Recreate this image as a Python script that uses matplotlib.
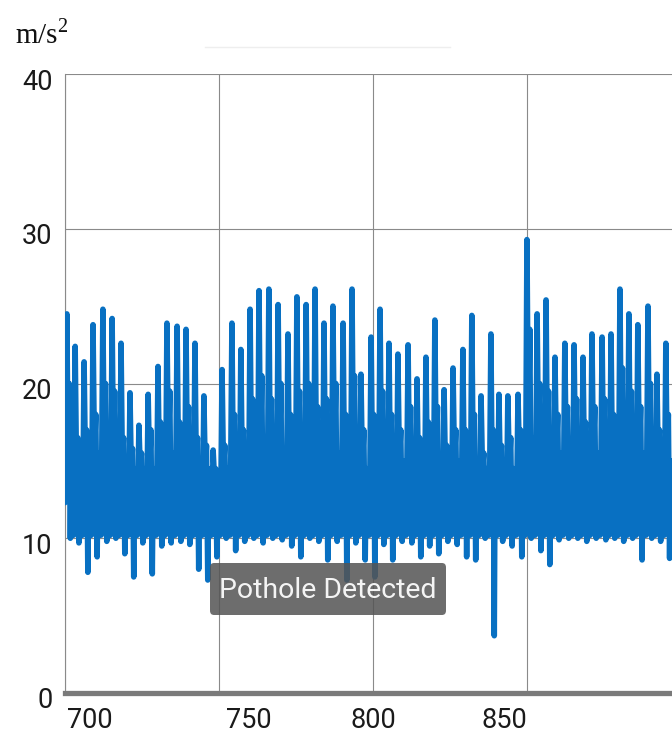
"""
Accelerometer trace (m/s^2) with the "Pothole Detected" toast, redrawn
from a phone screenshot.
"""

import numpy as np
import matplotlib
matplotlib.use("Agg")
import matplotlib.pyplot as plt
import matplotlib.transforms as mtransforms
from matplotlib.patches import FancyBboxPatch
from matplotlib.lines import Line2D


# =============================================================================
# DATA, one entry per oscillation cycle
# =============================================================================

PEAK_T = [
    700.6, 703.3, 706.2, 709.1, 712.3, 715.3, 718.2, 721.1, 724.0, 727.0,
    730.2, 733.1, 736.4, 739.3, 742.2, 745.1, 748.1, 751.0, 754.2, 757.1,
    760.1, 763.0, 766.2, 769.2, 772.4, 775.3, 778.3, 781.2, 784.1, 787.0,
    790.3, 793.2, 796.1, 799.4, 802.3, 805.2, 808.1, 811.4, 814.3, 817.2,
    820.1, 823.1, 826.0, 829.2, 832.1, 835.1, 838.3, 840.9, 843.8, 847.1,
    850.0, 853.3, 856.2, 859.1, 862.3, 865.3, 868.2, 871.1, 874.4, 877.3,
    880.2, 883.1, 886.0, 889.3, 892.2, 895.1,
]

PEAK_VAL = [
    24.5, 22.4, 21.4, 23.8, 24.8, 24.2, 22.6, 19.4, 17.3, 19.3,
    21.1, 23.9, 23.7, 23.5, 22.6, 19.2, 15.7, 20.9, 23.9, 22.2,
    24.8, 26.0, 26.1, 25.1, 23.2, 25.6, 25.1, 26.1, 23.9, 25.0,
    23.9, 26.1, 20.6, 23.0, 24.8, 22.6, 21.9, 22.5, 20.3, 21.7,
    24.1, 19.6, 21.0, 22.2, 24.4, 19.2, 23.2, 19.3, 19.2, 19.3,
    29.3, 24.5, 25.4, 21.7, 22.6, 22.5, 21.7, 23.2, 23.0, 23.2,
    26.1, 24.5, 23.8, 25.0, 20.6, 22.6,
]

SECOND_VAL = [
    20.0, 16.5, 17.0, 18.0, 20.0, 19.5, 16.5, 15.8, 15.5, 17.0,
    17.5, 19.5, 17.5, 18.5, 16.5, 16.0, 14.5, 16.0, 18.0, 17.0,
    19.0, 20.5, 19.0, 20.0, 18.0, 19.5, 20.0, 18.5, 19.0, 20.0,
    18.0, 20.5, 17.0, 18.0, 19.5, 18.0, 17.0, 18.5, 16.5, 17.5,
    18.5, 16.0, 17.0, 17.0, 18.0, 15.5, 17.0, 16.0, 16.5, 17.0,
    23.5, 20.0, 19.5, 18.0, 18.5, 19.0, 17.5, 18.5, 19.0, 18.0,
    21.0, 19.5, 18.5, 20.0, 17.0, 18.0,
]

LOW_VAL = [
    10.0, 9.7, 7.8, 8.8, 9.8, 10.0, 9.0, 7.5, 9.7, 7.7,
    9.5, 9.7, 9.8, 9.6, 8.0, 7.3, 8.8, 10.0, 9.2, 9.8,
    10.0, 9.7, 10.0, 9.9, 9.5, 8.8, 10.0, 9.8, 8.6, 9.8,
    7.3, 9.7, 8.6, 7.5, 9.6, 8.6, 9.8, 9.7, 8.8, 9.5,
    9.0, 9.8, 9.6, 8.8, 8.6, 10.0, 3.7, 9.8, 9.5, 8.8,
    10.0, 9.2, 8.3, 9.9, 10.0, 10.0, 9.8, 10.0, 9.9, 10.0,
    9.8, 10.0, 8.6, 10.0, 9.8, 8.7,
]

BAND_VAL = [
    15.5, 15.0, 15.0, 15.5, 15.5, 15.5, 15.0, 14.5, 14.5, 14.5,
    15.0, 15.5, 15.5, 15.5, 15.0, 14.5, 14.0, 14.5, 15.0, 15.0,
    15.5, 15.5, 15.5, 15.5, 15.0, 15.5, 15.5, 15.5, 15.0, 15.5,
    15.0, 15.5, 14.5, 15.0, 15.5, 15.0, 15.0, 15.0, 14.5, 15.0,
    15.0, 14.5, 15.0, 14.5, 15.0, 14.5, 14.5, 14.5, 14.5, 15.5,
    16.5, 16.5, 16.0, 15.5, 15.5, 15.5, 15.5, 15.5, 15.5, 15.5,
    16.0, 15.5, 15.5, 15.5, 15.0, 15.0,
]

START_VAL = 12.3      # value at the left edge before the first spike
FLOOR_VAL = 10.2      # typical bottom of the dense band

X_TICKS = [700, 750, 800, 850]
X_TICK_LABELS = ["700", "750", "800", "850"]
Y_TICKS = [0, 10, 20, 30, 40]
X_LIM = (700, 897.1)
Y_LIM = (0, 40)

UNIT_LABEL = r"m/s$^{\mathrm{2}}$"
TOAST_TEXT = "Pothole Detected"

LINE_COLOR = "#0870c2"
GRID_COLOR = "#8a8a8a"


# =============================================================================
# HELPERS
# =============================================================================

def build_trace():
    """Each cycle: spike, dip, secondary spike, trough, then band wiggles."""
    t = [PEAK_T[0] - 0.6]
    v = [START_VAL]
    n = len(PEAK_T)
    for i in range(n):
        d = PEAK_T[i + 1] - PEAK_T[i] if i < n - 1 else PEAK_T[i] - PEAK_T[i - 1]
        cycle = [
            (0.00, PEAK_VAL[i]),
            (0.14, BAND_VAL[i]),
            (0.28, SECOND_VAL[i]),
            (0.42, LOW_VAL[i]),
            (0.52, BAND_VAL[i]),
            (0.62, FLOOR_VAL),
            (0.72, BAND_VAL[i]),
            (0.82, FLOOR_VAL),
        ]
        for frac, val in cycle:
            t.append(PEAK_T[i] + frac * d)
            v.append(val)
    return np.array(t), np.array(v)


# =============================================================================
# MAIN
# =============================================================================

def main():
    plt.rcParams["mathtext.fontset"] = "custom"
    plt.rcParams["mathtext.rm"] = "Liberation Serif"

    W, H = 672, 740
    fig = plt.figure(figsize=(W / 100, H / 100), dpi=100)
    fig.patch.set_facecolor("white")

    # axes box: left spine at x=65px, 40-line at y=74px, 0-line at y=693px
    ax = fig.add_axes([65 / W, (H - 693) / H, 1 - 65 / W, (693 - 74) / H])

    t, v = build_trace()
    ax.plot(t, v, color=LINE_COLOR, lw=4.0,
            solid_joinstyle="round", solid_capstyle="round", zorder=3)

    ax.set_xlim(*X_LIM)
    ax.set_ylim(*Y_LIM)
    ax.set_xticks(X_TICKS)
    ax.set_xticklabels(X_TICK_LABELS)
    ax.set_yticks(Y_TICKS)

    ax.grid(True, color=GRID_COLOR, lw=0.8, zorder=1)
    ax.set_axisbelow(True)

    for side in ("top", "right"):
        ax.spines[side].set_visible(False)
    ax.spines["left"].set_color(GRID_COLOR)
    ax.spines["left"].set_linewidth(0.8)
    ax.spines["bottom"].set_color("#7a7a7a")
    ax.spines["bottom"].set_linewidth(3.8)
    ax.spines["bottom"].set_zorder(4)

    ax.tick_params(axis="both", length=0, labelsize=19.5, labelcolor="#1a1a1a")
    ax.tick_params(axis="x", pad=10)
    ax.tick_params(axis="y", pad=9)
    for lab in ax.get_xticklabels() + ax.get_yticklabels():
        lab.set_fontfamily("Roboto")

    # y labels sit a little below their grid lines
    down = mtransforms.ScaledTranslation(0, -5 / 100, fig.dpi_scale_trans)
    for lab in ax.get_yticklabels():
        lab.set_transform(lab.get_transform() + down)

    # x labels are placed unevenly against their grid lines
    x_align = ["left", "left", "center", "right"]
    x_shift = [2, 7, 0, 0]
    for lab, ha, dx in zip(ax.get_xticklabels(), x_align, x_shift):
        lab.set_horizontalalignment(ha)
        lab.set_transform(lab.get_transform() + mtransforms.ScaledTranslation(
            dx / 100, 0, fig.dpi_scale_trans))

    # unit label, top left
    fig.text(15 / W, (H - 43) / H, UNIT_LABEL, fontsize=21,
             family="Liberation Serif", color="#111111", ha="left", va="baseline")

    # faint line under the title area
    fig.add_artist(Line2D([205 / W, 450 / W], [(H - 47) / H] * 2,
                          transform=fig.transFigure, color="#eeeeee", lw=1))

    # toast
    x0, x1 = 210 / W, 446 / W
    y0, y1 = (H - 615) / H, (H - 563) / H
    toast = FancyBboxPatch((x0, y0), x1 - x0, y1 - y0,
                           boxstyle="round,pad=0,rounding_size=0.006",
                           transform=fig.transFigure, fc="#555555", ec="none",
                           alpha=0.86, zorder=10)
    fig.add_artist(toast)
    fig.text((x0 + x1) / 2, (H - 590) / H, TOAST_TEXT, fontsize=20.5,
             family="Roboto", color="#f4f4f4", ha="center", va="center",
             zorder=11)

    fig.savefig("out.png", dpi=100)
    plt.close(fig)


if __name__ == "__main__":
    main()
